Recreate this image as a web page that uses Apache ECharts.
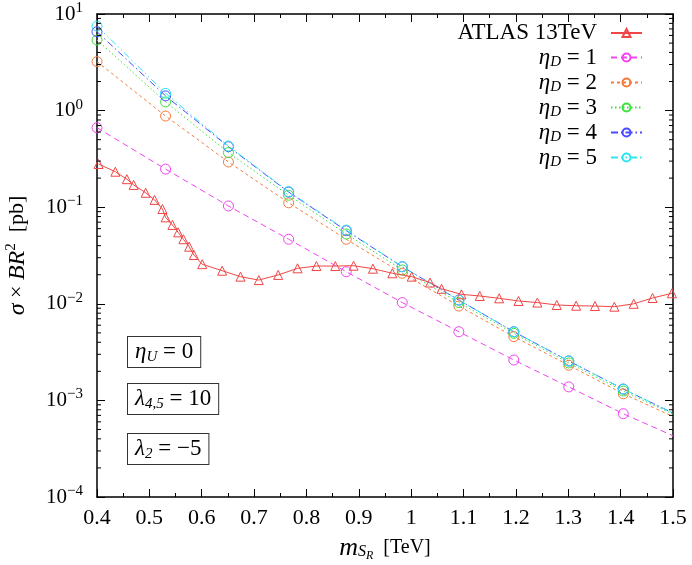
<!DOCTYPE html>
<html>
<head>
<meta charset="utf-8">
<script src="https://cdn.jsdelivr.net/npm/echarts@6/dist/echarts.min.js"></script>
<style>
  html, body { margin: 0; padding: 0; background: #fff; }
  #main { width: 692px; height: 565px; }
</style>
</head>
<body>
<div id="main"></div>
<script>
// mass points of the model curves (TeV); last one has no marker
var massPoints = [0.4, 0.531, 0.651, 0.766, 0.876, 0.983, 1.091, 1.196, 1.301, 1.405, 1.5];
var eta1 = [0.665, 0.248, 0.103, 0.0466, 0.0215, 0.0103, 0.00514, 0.00262, 0.00138, 0.000728, 0.00043];
var eta2 = [3.21, 0.879, 0.294, 0.111, 0.0466, 0.0207, 0.00948, 0.00457, 0.00231, 0.00117, 0.00068];
var eta3 = [5.38, 1.23, 0.367, 0.133, 0.0528, 0.0224, 0.0103, 0.00494, 0.00244, 0.00125, 0.00072];
var eta4 = [6.56, 1.42, 0.423, 0.1435, 0.0571, 0.0242, 0.01094, 0.00514, 0.00256, 0.00131, 0.00074];
var eta5 = [7.5, 1.51, 0.43, 0.145, 0.058, 0.0242, 0.0109, 0.00514, 0.00256, 0.00131, 0.00074];

// ATLAS 13TeV limit
var atlasMass = [0.403, 0.435, 0.457, 0.470, 0.493, 0.510, 0.525, 0.531, 0.544, 0.555, 0.565, 0.576, 0.585, 0.601,
  0.639, 0.674, 0.709, 0.746, 0.783, 0.819, 0.855, 0.890, 0.927, 0.964, 1.001, 1.036, 1.058, 1.096, 1.131,
  1.168, 1.205, 1.241, 1.278, 1.315, 1.351, 1.388, 1.425, 1.461, 1.498];
var atlasXsec = [0.280, 0.233, 0.195, 0.170, 0.141, 0.119, 0.0957, 0.0785, 0.0655, 0.0549, 0.0466, 0.039, 0.032, 0.0257,
  0.0220, 0.0191, 0.0176, 0.0199, 0.0233, 0.0246, 0.0246, 0.0248, 0.0231, 0.0207, 0.0191, 0.0166, 0.0143, 0.01253, 0.01205,
  0.0114, 0.0107, 0.0103, 0.00972, 0.00955, 0.00948, 0.00933, 0.0100, 0.01148, 0.01285];

var seriesNames = ['ATLAS 13TeV', 'ηD = 1', 'ηD = 2', 'ηD = 3', 'ηD = 4', 'ηD = 5'];
var etaValues = [eta1, eta2, eta3, eta4, eta5];
var etaColors = ['#f044f0', '#f57a3c', '#3ee03e', '#4a4aff', '#2ee6f0'];
var etaDash = [[6, 4], [3, 3], [1.5, 2.5], [7, 3, 1.5, 3], [7, 3, 1.5, 3, 1.5, 3]];
var boxTexts = ['{i|η}{s|U}{n| = 0}', '{i|λ}{s|4,5}{n| = 10}', '{i|λ}{s|2}{n| = −5}'];

var FONT = 'Liberation Serif';

function pairs(xs, ys) {
  return xs.map(function (x, i) { return [x, ys[i]]; });
}

var myChart = echarts.init(document.getElementById('main'));

// log minor tick positions
var minorVals = [];
for (var k = -4; k <= 0; k++) {
  for (var m = 2; m <= 9; m++) minorVals.push([0.4, m * Math.pow(10, k)]);
}

var series = [];
series.push({
  name: seriesNames[0],
  type: 'line',
  data: pairs(atlasMass, atlasXsec),
  symbol: 'triangle',
  symbolSize: 9,
  color: '#f04646',
  lineStyle: { width: 1, color: '#f04646' },
  itemStyle: { color: 'rgba(255,255,255,0)', borderColor: '#f04646', borderWidth: 1 },
  z: 3
});
etaValues.forEach(function (vals, i) {
  var d = pairs(massPoints, vals).map(function (p, j) {
    return j === massPoints.length - 1 ? { value: p, symbol: 'none' } : p;
  });
  series.push({
    name: seriesNames[i + 1],
    type: 'line',
    data: d,
    symbol: 'circle',
    symbolSize: 10,
    color: etaColors[i],
    lineStyle: { width: 1, type: etaDash[i], color: etaColors[i] },
    itemStyle: { color: 'rgba(255,255,255,0)', borderColor: etaColors[i], borderWidth: 1 },
    z: 2
  });
});
series.push({
  type: 'custom',
  silent: true,
  data: minorVals,
  renderItem: function (params, api) {
    var cs = params.coordSys;
    var y = api.coord([0.4, api.value(1)])[1];
    var st = { stroke: '#000', lineWidth: 1 };
    return {
      type: 'group',
      children: [
        { type: 'line', shape: { x1: cs.x, y1: y, x2: cs.x + 4, y2: y }, style: st },
        { type: 'line', shape: { x1: cs.x + cs.width - 4, y1: y, x2: cs.x + cs.width, y2: y }, style: st }
      ]
    };
  },
  z: 5
});

var subRich = {
  i: { fontFamily: FONT, fontStyle: 'italic', fontSize: 23, lineHeight: 24 },
  s: { fontFamily: FONT, fontStyle: 'italic', fontSize: 15, lineHeight: 24, padding: [10, 0, 0, 0] },
  n: { fontFamily: FONT, fontSize: 23, lineHeight: 24 }
};

var option = {
  animation: false,
  backgroundColor: '#fff',
  grid: { left: 97, top: 14, right: 19, bottom: 68, outerBoundsMode: 'none' },
  legend: {
    data: seriesNames,
    orient: 'vertical',
    right: 44,
    top: 16,
    align: 'right',
    itemWidth: 31,
    itemHeight: 10,
    itemGap: 0,
    selectedMode: false,
    textStyle: {
      fontFamily: FONT, fontSize: 23, color: '#000', lineHeight: 24, padding: [0, 9, 0, 0],
      rich: subRich
    },
    formatter: function (name) {
      if (name.charAt(0) === 'η') return '{i|η}{s|D}{n| = ' + name.slice(-1) + '}';
      return '{n|' + name + '}';
    }
  },
  xAxis: [{
    type: 'value',
    min: 0.4,
    max: 1.5,
    interval: 0.1,
    name: '{i|m}{s|S}{ss|R}{n|  [TeV]}',
    nameLocation: 'middle',
    nameGap: 34,
    nameTextStyle: {
      rich: {
        i: { fontFamily: FONT, fontStyle: 'italic', fontSize: 26, lineHeight: 26 },
        s: { fontFamily: FONT, fontStyle: 'italic', fontSize: 16, lineHeight: 26, padding: [8, 0, 0, 0] },
        ss: { fontFamily: FONT, fontStyle: 'italic', fontSize: 12, lineHeight: 26, padding: [16, 0, 0, 0] },
        n: { fontFamily: FONT, fontSize: 20, lineHeight: 26 }
      }
    },
    axisLine: { lineStyle: { color: '#000', width: 1.5 } },
    axisTick: { inside: true, length: 8, lineStyle: { color: '#000' } },
    minorTick: { show: true, splitNumber: 2, length: 4, lineStyle: { color: '#000' } },
    splitLine: { show: false },
    axisLabel: {
      fontFamily: FONT, fontSize: 22, color: '#000', margin: 10,
      formatter: function (v) { return String(Math.round(v * 10) / 10); }
    }
  }, {
    type: 'value',
    position: 'top',
    min: 0.4,
    max: 1.5,
    interval: 0.1,
    axisLine: { lineStyle: { color: '#000', width: 1.5 } },
    axisTick: { inside: true, length: 8, lineStyle: { color: '#000' } },
    minorTick: { show: true, splitNumber: 2, length: 4, lineStyle: { color: '#000' } },
    splitLine: { show: false },
    axisLabel: { show: false }
  }],
  yAxis: [{
    type: 'log',
    logBase: 10,
    min: 1e-4,
    max: 10,
    name: '{i|σ}{n| × }{i|BR}{sup|2}{n|  [pb]}',
    nameLocation: 'middle',
    nameGap: 66,
    nameRotate: 90,
    nameTextStyle: {
      rich: {
        i: { fontFamily: FONT, fontStyle: 'italic', fontSize: 24 },
        n: { fontFamily: FONT, fontSize: 22 },
        sup: { fontFamily: FONT, fontSize: 15, padding: [0, 0, 12, 0] }
      }
    },
    axisLine: { lineStyle: { color: '#000', width: 1.5 } },
    axisTick: { inside: true, length: 8, lineStyle: { color: '#000' } },
    splitLine: { show: false },
    axisLabel: {
      margin: 14,
      formatter: function (v) {
        var e = Math.round(Math.log10(v));
        return '{b|10}{e|' + (e < 0 ? '−' + (-e) : e) + '}';
      },
      rich: {
        b: { fontFamily: FONT, fontSize: 21, color: '#000' },
        e: { fontFamily: FONT, fontSize: 15, color: '#000', padding: [0, 0, 12, 0] }
      }
    }
  }, {
    type: 'log',
    logBase: 10,
    min: 1e-4,
    max: 10,
    position: 'right',
    axisLine: { lineStyle: { color: '#000', width: 1.5 } },
    axisTick: { inside: true, length: 8, lineStyle: { color: '#000' } },
    splitLine: { show: false },
    axisLabel: { show: false }
  }],
  graphic: boxTexts.map(function (t, i) {
    return {
      type: 'text',
      left: 127,
      top: [336, 383, 433][i],
      style: {
        text: t,
        rich: subRich,
        fontFamily: FONT,
        fontSize: 23,
        fill: '#000',
        borderColor: '#333',
        borderWidth: 1,
        backgroundColor: '#fff',
        padding: [3, 7, 3, 7]
      }
    };
  }),
  series: series
};

myChart.setOption(option);
</script>
</body>
</html>
